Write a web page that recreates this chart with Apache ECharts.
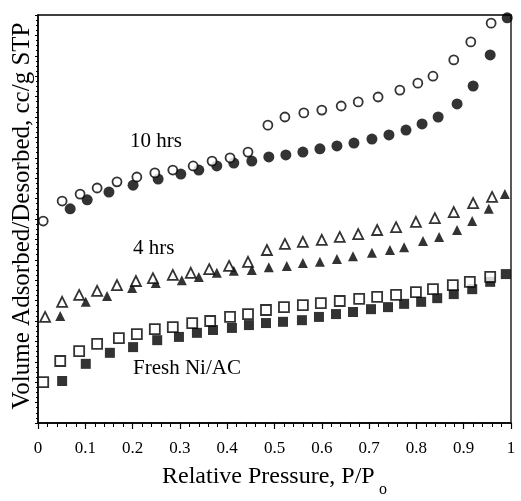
<!DOCTYPE html>
<html>
<head>
<meta charset="utf-8">
<script src="https://cdn.jsdelivr.net/npm/echarts@6/dist/echarts.min.js"></script>
<style>
  html, body { margin: 0; padding: 0; background: #fff; }
  #chart { width: 521px; height: 501px; }
</style>
</head>
<body>
<div id="chart"></div>
<script>
// Nitrogen isotherms (arbitrary volume units), relative pressure on x.
// 10 hrs sample
const p10DesX = [0.011,0.051,0.089,0.125,0.167,0.209,0.247,0.285,0.328,0.368,0.406,0.444,0.486,0.522,0.562,0.600,0.641,0.677,0.719,0.765,0.803,0.835,0.879,0.915,0.958];
const p10DesY = [49.5,54.4,56.1,57.6,59.1,60.3,61.3,62.0,63.0,64.2,65.0,66.4,73.0,75.0,76.0,76.7,77.7,78.7,79.9,81.6,83.3,85.0,89.0,93.4,98.0];
const p10AdsX = [0.068,0.104,0.150,0.201,0.254,0.302,0.340,0.378,0.414,0.452,0.488,0.524,0.560,0.596,0.632,0.668,0.706,0.742,0.778,0.812,0.846,0.886,0.920,0.956,0.992];
const p10AdsY = [52.5,54.7,56.6,58.3,59.8,61.0,62.0,63.0,63.7,64.2,65.2,65.7,66.4,67.2,67.9,68.6,69.6,70.6,71.8,73.3,75.0,78.2,82.6,90.2,99.3];
// 4 hrs sample
const p4DesX = [0.015,0.051,0.087,0.125,0.167,0.207,0.243,0.285,0.323,0.362,0.404,0.444,0.484,0.522,0.560,0.600,0.638,0.677,0.717,0.757,0.799,0.839,0.879,0.920,0.960];
const p4DesY = [26.0,29.7,31.4,32.4,33.8,34.8,35.5,36.3,36.8,37.7,38.5,39.5,42.4,43.9,44.4,44.9,45.6,46.3,47.3,48.0,49.3,50.2,51.7,53.9,55.4];
const p4AdsX = [0.047,0.101,0.146,0.199,0.249,0.304,0.340,0.378,0.414,0.452,0.488,0.526,0.560,0.596,0.632,0.666,0.706,0.744,0.774,0.814,0.848,0.886,0.918,0.953,0.987];
const p4AdsY = [26.2,29.7,31.1,33.1,34.3,35.0,35.8,36.8,37.3,37.5,38.2,38.5,39.2,39.5,40.2,40.9,41.7,42.4,43.1,44.6,45.6,47.3,49.5,52.5,56.1];
// Fresh Ni/AC
const freshDesX = [0.011,0.047,0.087,0.125,0.171,0.209,0.247,0.285,0.326,0.364,0.406,0.444,0.482,0.520,0.560,0.598,0.638,0.679,0.717,0.757,0.799,0.835,0.877,0.913,0.956];
const freshDesY = [10.0,15.2,17.6,19.4,20.8,21.8,23.0,23.5,24.5,25.0,26.0,26.7,27.7,28.4,28.9,29.4,29.9,30.4,30.9,31.4,32.1,32.8,33.8,34.6,35.8];
const freshAdsX = [0.051,0.101,0.152,0.201,0.252,0.298,0.336,0.370,0.410,0.446,0.482,0.518,0.558,0.594,0.630,0.666,0.704,0.740,0.774,0.810,0.844,0.879,0.918,0.956,0.989];
const freshAdsY = [10.3,14.5,17.2,18.6,20.3,21.1,22.1,22.8,23.3,24.0,24.5,24.8,25.2,26.0,26.7,27.2,27.9,28.4,29.2,29.7,30.6,31.6,32.8,34.6,36.5];

const xTicks = [0, 0.1, 0.2, 0.3, 0.4, 0.5, 0.6, 0.7, 0.8, 0.9, 1];
const sampleLabels = ['10 hrs', '4 hrs', 'Fresh Ni/AC'];

const SERIF = '"Liberation Serif", "DejaVu Serif", serif';
const zip = (xs, ys) => xs.map((x, i) => [x, ys[i]]);

function scatter(xs, ys, symbol, size, open) {
  return {
    type: 'scatter',
    data: zip(xs, ys),
    symbol: symbol,
    symbolSize: size,
    itemStyle: open
      ? { color: '#fff', borderColor: '#000', borderWidth: 1.8 }
      : { color: '#000', borderColor: '#000', borderWidth: 0 },
    emphasis: { disabled: true },
    silent: true,
    z: open ? 3 : 2
  };
}

const chart = echarts.init(document.getElementById('chart'), null, { renderer: 'canvas' });
chart.setOption({
  animation: false,
  backgroundColor: '#fff',
  grid: { left: 38, right: 10, top: 15, bottom: 78, show: true, borderColor: '#000', borderWidth: 1.3, backgroundColor: 'transparent' },
  xAxis: {
    type: 'value', min: 0, max: 1, interval: 0.1,
    axisLine: { show: true, lineStyle: { color: '#000', width: 1.5 } },
    axisTick: { show: true, inside: false, length: 6, lineStyle: { color: '#000', width: 1.2 } },
    minorTick: { show: true, splitNumber: 5, length: 4, lineStyle: { color: '#000', width: 1 } },
    splitLine: { show: false },
    axisLabel: {
      color: '#000', fontFamily: SERIF, fontSize: 17, margin: 17,
      formatter: v => {
        const t = xTicks.find(k => Math.abs(k - v) < 1e-6);
        return t === undefined ? '' : String(t);
      }
    }
  },
  yAxis: {
    type: 'value', min: 0, max: 100, interval: 5,
    axisLine: { show: true, lineStyle: { color: '#000', width: 1.5 } },
    axisTick: { show: true, inside: false, length: 3, lineStyle: { color: '#000', width: 1 } },
    minorTick: { show: true, splitNumber: 4, length: 2, lineStyle: { color: '#000', width: 1 } },
    splitLine: { show: false },
    axisLabel: { show: false }
  },
  series: [
    scatter(p10AdsX, p10AdsY, 'circle', 11, false),
    scatter(p10DesX, p10DesY, 'circle', 9, true),
    scatter(p4AdsX, p4AdsY, 'triangle', 10, false),
    scatter(p4DesX, p4DesY, 'triangle', 10, true),
    scatter(freshAdsX, freshAdsY, 'rect', 10, false),
    scatter(freshDesX, freshDesY, 'rect', 10, true)
  ],
  graphic: [
    { type: 'text', left: 130, top: 131, style: { text: sampleLabels[0], fill: '#000', font: '21px ' + SERIF } },
    { type: 'text', left: 133, top: 238, style: { text: sampleLabels[1], fill: '#000', font: '21px ' + SERIF } },
    { type: 'text', left: 133, top: 358, style: { text: sampleLabels[2], fill: '#000', font: '21px ' + SERIF } },
    { type: 'text', left: 162, top: 465, style: { text: 'Relative Pressure, P/P', fill: '#000', font: '24px ' + SERIF } },
    { type: 'text', left: 379, top: 482, style: { text: 'o', fill: '#000', font: '16px ' + SERIF } },
    {
      type: 'text', x: 22, y: 216, rotation: Math.PI / 2,
      style: { text: 'Volume Adsorbed/Desorbed, cc/g STP', fill: '#000', font: '25px ' + SERIF, align: 'center', verticalAlign: 'middle' }
    }
  ]
});
</script>
</body>
</html>
